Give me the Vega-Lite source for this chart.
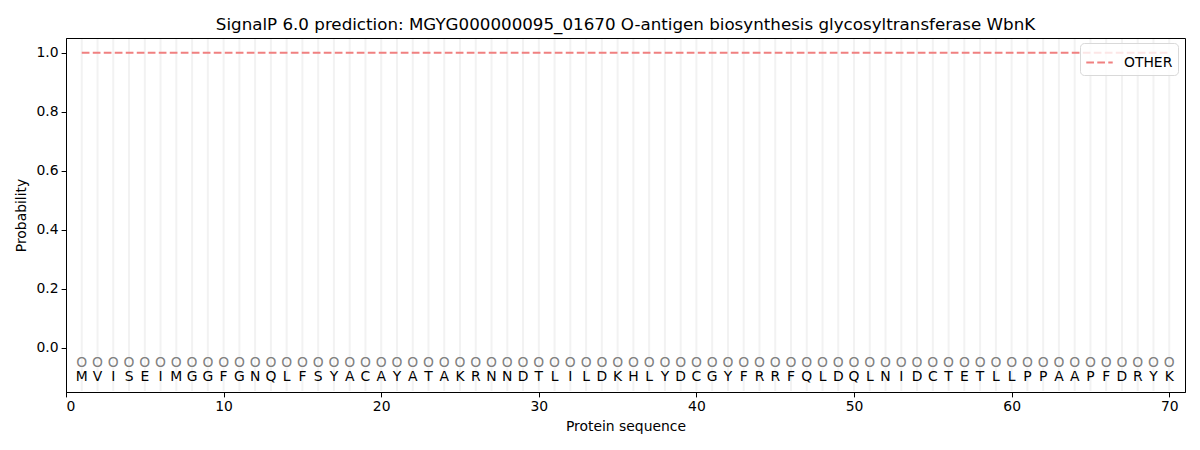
{
  "$schema": "https://vega.github.io/schema/vega-lite/v6.json",
  "width": 1119,
  "height": 354,
  "autosize": {"type": "none"},
  "padding": {"left": 66, "top": 38, "right": 15, "bottom": 58},
  "background": "white",
  "config": {
    "font": "DejaVu Sans",
    "view": {"stroke": "black", "strokeWidth": 1},
    "axis": {
      "grid": false,
      "domainColor": "black",
      "tickColor": "black",
      "labelColor": "black",
      "titleColor": "black",
      "labelFontSize": 13.9,
      "titleFontSize": 13.9,
      "titleFontWeight": "normal",
      "tickSize": 4.9,
      "labelPadding": 3
    }
  },
  "title": {
    "text": "SignalP 6.0 prediction: MGYG000000095_01670 O-antigen biosynthesis glycosyltransferase WbnK",
    "fontSize": 16.7,
    "fontWeight": "normal",
    "color": "black",
    "offset": 4
  },
  "data": {
    "values": [
      {"pos": 1, "aa": "M", "label": "O", "prob": 1.0},
      {"pos": 2, "aa": "V", "label": "O", "prob": 1.0},
      {"pos": 3, "aa": "I", "label": "O", "prob": 1.0},
      {"pos": 4, "aa": "S", "label": "O", "prob": 1.0},
      {"pos": 5, "aa": "E", "label": "O", "prob": 1.0},
      {"pos": 6, "aa": "I", "label": "O", "prob": 1.0},
      {"pos": 7, "aa": "M", "label": "O", "prob": 1.0},
      {"pos": 8, "aa": "G", "label": "O", "prob": 1.0},
      {"pos": 9, "aa": "G", "label": "O", "prob": 1.0},
      {"pos": 10, "aa": "F", "label": "O", "prob": 1.0},
      {"pos": 11, "aa": "G", "label": "O", "prob": 1.0},
      {"pos": 12, "aa": "N", "label": "O", "prob": 1.0},
      {"pos": 13, "aa": "Q", "label": "O", "prob": 1.0},
      {"pos": 14, "aa": "L", "label": "O", "prob": 1.0},
      {"pos": 15, "aa": "F", "label": "O", "prob": 1.0},
      {"pos": 16, "aa": "S", "label": "O", "prob": 1.0},
      {"pos": 17, "aa": "Y", "label": "O", "prob": 1.0},
      {"pos": 18, "aa": "A", "label": "O", "prob": 1.0},
      {"pos": 19, "aa": "C", "label": "O", "prob": 1.0},
      {"pos": 20, "aa": "A", "label": "O", "prob": 1.0},
      {"pos": 21, "aa": "Y", "label": "O", "prob": 1.0},
      {"pos": 22, "aa": "A", "label": "O", "prob": 1.0},
      {"pos": 23, "aa": "T", "label": "O", "prob": 1.0},
      {"pos": 24, "aa": "A", "label": "O", "prob": 1.0},
      {"pos": 25, "aa": "K", "label": "O", "prob": 1.0},
      {"pos": 26, "aa": "R", "label": "O", "prob": 1.0},
      {"pos": 27, "aa": "N", "label": "O", "prob": 1.0},
      {"pos": 28, "aa": "N", "label": "O", "prob": 1.0},
      {"pos": 29, "aa": "D", "label": "O", "prob": 1.0},
      {"pos": 30, "aa": "T", "label": "O", "prob": 1.0},
      {"pos": 31, "aa": "L", "label": "O", "prob": 1.0},
      {"pos": 32, "aa": "I", "label": "O", "prob": 1.0},
      {"pos": 33, "aa": "L", "label": "O", "prob": 1.0},
      {"pos": 34, "aa": "D", "label": "O", "prob": 1.0},
      {"pos": 35, "aa": "K", "label": "O", "prob": 1.0},
      {"pos": 36, "aa": "H", "label": "O", "prob": 1.0},
      {"pos": 37, "aa": "L", "label": "O", "prob": 1.0},
      {"pos": 38, "aa": "Y", "label": "O", "prob": 1.0},
      {"pos": 39, "aa": "D", "label": "O", "prob": 1.0},
      {"pos": 40, "aa": "C", "label": "O", "prob": 1.0},
      {"pos": 41, "aa": "G", "label": "O", "prob": 1.0},
      {"pos": 42, "aa": "Y", "label": "O", "prob": 1.0},
      {"pos": 43, "aa": "F", "label": "O", "prob": 1.0},
      {"pos": 44, "aa": "R", "label": "O", "prob": 1.0},
      {"pos": 45, "aa": "R", "label": "O", "prob": 1.0},
      {"pos": 46, "aa": "F", "label": "O", "prob": 1.0},
      {"pos": 47, "aa": "Q", "label": "O", "prob": 1.0},
      {"pos": 48, "aa": "L", "label": "O", "prob": 1.0},
      {"pos": 49, "aa": "D", "label": "O", "prob": 1.0},
      {"pos": 50, "aa": "Q", "label": "O", "prob": 1.0},
      {"pos": 51, "aa": "L", "label": "O", "prob": 1.0},
      {"pos": 52, "aa": "N", "label": "O", "prob": 1.0},
      {"pos": 53, "aa": "I", "label": "O", "prob": 1.0},
      {"pos": 54, "aa": "D", "label": "O", "prob": 1.0},
      {"pos": 55, "aa": "C", "label": "O", "prob": 1.0},
      {"pos": 56, "aa": "T", "label": "O", "prob": 1.0},
      {"pos": 57, "aa": "E", "label": "O", "prob": 1.0},
      {"pos": 58, "aa": "T", "label": "O", "prob": 1.0},
      {"pos": 59, "aa": "L", "label": "O", "prob": 1.0},
      {"pos": 60, "aa": "L", "label": "O", "prob": 1.0},
      {"pos": 61, "aa": "P", "label": "O", "prob": 1.0},
      {"pos": 62, "aa": "P", "label": "O", "prob": 1.0},
      {"pos": 63, "aa": "A", "label": "O", "prob": 1.0},
      {"pos": 64, "aa": "A", "label": "O", "prob": 1.0},
      {"pos": 65, "aa": "P", "label": "O", "prob": 1.0},
      {"pos": 66, "aa": "F", "label": "O", "prob": 1.0},
      {"pos": 67, "aa": "D", "label": "O", "prob": 1.0},
      {"pos": 68, "aa": "R", "label": "O", "prob": 1.0},
      {"pos": 69, "aa": "Y", "label": "O", "prob": 1.0},
      {"pos": 70, "aa": "K", "label": "O", "prob": 1.0}
    ]
  },
  "layer": [
    {
      "mark": {"type": "rule", "color": "#f2f2f2", "strokeWidth": 2},
      "encoding": {
        "x": {
          "field": "pos",
          "type": "quantitative",
          "scale": {"domain": [0, 71], "nice": false, "zero": false},
          "axis": {"values": [0, 10, 20, 30, 40, 50, 60, 70], "title": "Protein sequence", "titlePadding": 6}
        },
        "y": {"datum": -0.147, "type": "quantitative"},
        "y2": {"datum": 1.047}
      }
    },
    {
      "mark": {"type": "line", "strokeWidth": 2.08, "strokeDash": [7.7, 3.3]},
      "encoding": {
        "x": {"field": "pos", "type": "quantitative"},
        "y": {
          "field": "prob",
          "type": "quantitative",
          "scale": {"domain": [-0.15, 1.05], "nice": false, "zero": false},
          "axis": {"values": [0, 0.2, 0.4, 0.6, 0.8, 1.0], "format": ".1f", "title": "Probability", "titlePadding": 8}
        },
        "stroke": {
          "datum": "OTHER",
          "type": "nominal",
          "scale": {"domain": ["OTHER"], "range": ["#f08080"]},
          "legend": {
            "title": null,
            "orient": "none",
            "legendX": 1014,
            "legendY": 5,
            "symbolType": "stroke",
            "symbolStrokeWidth": 2.08,
            "symbolDash": [7.7, 3.3],
            "symbolSize": 700,
            "labelFontSize": 13.9,
            "labelColor": "black",
            "padding": 5,
            "strokeColor": "#d9d9d9",
            "cornerRadius": 4,
            "fillColor": "rgba(255,255,255,0.8)",
            "labelOffset": 10
          }
        }
      }
    },
    {
      "mark": {"type": "text", "color": "#808080", "fontSize": 13.9, "baseline": "middle", "align": "center"},
      "encoding": {
        "x": {"field": "pos", "type": "quantitative"},
        "y": {"datum": -0.05},
        "text": {"field": "label"}
      }
    },
    {
      "mark": {"type": "text", "color": "black", "fontSize": 13.9, "baseline": "middle", "align": "center"},
      "encoding": {
        "x": {"field": "pos", "type": "quantitative"},
        "y": {"datum": -0.1},
        "text": {"field": "aa"}
      }
    }
  ]
}
